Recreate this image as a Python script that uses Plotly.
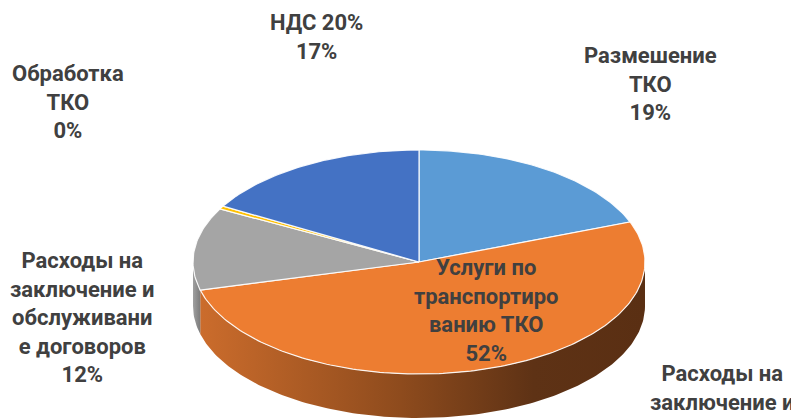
import numpy as np
import plotly.graph_objects as go

# ---- data ----
categories = [
    "Размешение ТКО",
    "Услуги по транспортированию ТКО",
    "Расходы на заключение и обслуживание договоров",
    "Обработка ТКО",
    "НДС 20%",
]
values = [19.2, 51.8, 11.9, 0.45, 16.7]
label_lines = [
    "Размешение<br>ТКО",
    "Услуги по<br>транспортиро<br>ванию ТКО",
    "Расходы на<br>заключение и<br>обслуживани<br>е договоров",
    "Обработка<br>ТКО",
    "НДС 20%",
]
extra_label = "Расходы на<br>заключение и"

# ---- styles / layout ----
colors = ["#5B9BD5", "#ED7D31", "#A5A5A5", "#FFC000", "#4472C4"]
side_scales = [
    [[0, "#4A80B0"], [1, "#2E5578"]],
    [[0, "#CB6C2C"], [0.45, "#8E4B1D"], [0.75, "#5E3215"], [1, "#5A2F13"]],
    [[0, "#A0A0A0"], [1, "#7C7C7C"]],
    [[0, "#D9A300"], [1, "#A67C00"]],
    [[0, "#3A62A8"], [1, "#2B4A80"]],
]
W, H = 799, 418
PAGE_OFFSET = 8  # default body margin of the html page
cx, cy, ra, rb, depth = 419, 262, 226, 112, 44
label_pos = [  # (x, y) centres in page pixel space
    (650, 84),
    (486, 310),
    (82, 317),
    (68, 102),
    (316, 37),
]
extra_pos = (722, 388)
font_family = "Roboto, 'Open Sans', sans-serif"
font_size = 22
text_color = "#404040"


def arc(p1, p2, dy=0.0):
    n = max(2, int(abs(p2 - p1) / np.pi * 180))
    ph = np.linspace(p1, p2, n)
    return cx + ra * np.sin(ph), cy - rb * np.cos(ph) + dy


total = sum(values)
fracs = np.array(values) / total
bounds = np.concatenate([[0], np.cumsum(fracs)]) * 2 * np.pi

fig = go.Figure()

# side walls (visible front half: 90..270 degrees)
for i in range(len(values)):
    p1, p2 = bounds[i], bounds[i + 1]
    s1, s2 = max(p1, np.pi / 2), min(p2, 3 * np.pi / 2)
    if s2 <= s1:
        continue
    xt, yt = arc(s1, s2)
    xb, yb = arc(s1, s2, depth)
    xs = np.concatenate([xt, xb[::-1], xt[:1]])
    ys = np.concatenate([yt, yb[::-1], yt[:1]])
    fig.add_trace(go.Scatter(
        x=xs, y=ys, mode="lines", fill="toself",
        line=dict(width=0, color=colors[i]),
        fillgradient=dict(type="horizontal", colorscale=side_scales[i]),
        hoverinfo="skip", showlegend=False,
    ))

# top faces
for i in range(len(values)):
    p1, p2 = bounds[i], bounds[i + 1]
    xa, ya = arc(p1, p2)
    xs = np.concatenate([[cx], xa, [cx]])
    ys = np.concatenate([[cy], ya, [cy]])
    pct = round(fracs[i] * 100)
    fig.add_trace(go.Scatter(
        x=xs, y=ys, mode="lines", fill="toself", fillcolor=colors[i],
        line=dict(width=1.2, color="rgba(255,255,255,0.9)"),
        name=categories[i], text=f"{categories[i]}: {pct}%",
        hoverinfo="text", showlegend=False,
    ))

# labels
for i in range(len(values)):
    pct = round(fracs[i] * 100)
    x, y = label_pos[i]
    fig.add_annotation(
        x=x, y=y, xref="x", yref="y", yanchor="middle", xanchor="center",
        text=f"{label_lines[i]}<br>{pct}%", showarrow=False, align="center",
        font=dict(family=font_family, size=font_size, color=text_color, weight="bold"),
    )
fig.add_annotation(
    x=extra_pos[0], y=extra_pos[1], xref="x", yref="y", yanchor="middle", xanchor="center",
    text=extra_label, showarrow=False, align="center",
    font=dict(family=font_family, size=font_size, color=text_color, weight="bold"),
)

fig.update_xaxes(range=[PAGE_OFFSET, W + PAGE_OFFSET], visible=False, fixedrange=True)
fig.update_yaxes(range=[H + PAGE_OFFSET, PAGE_OFFSET], visible=False, fixedrange=True)
fig.update_layout(
    width=W, height=H, autosize=False,
    margin=dict(l=0, r=0, t=0, b=0),
    paper_bgcolor="white", plot_bgcolor="white",
    showlegend=False,
)
fig.write_html("out.html")
